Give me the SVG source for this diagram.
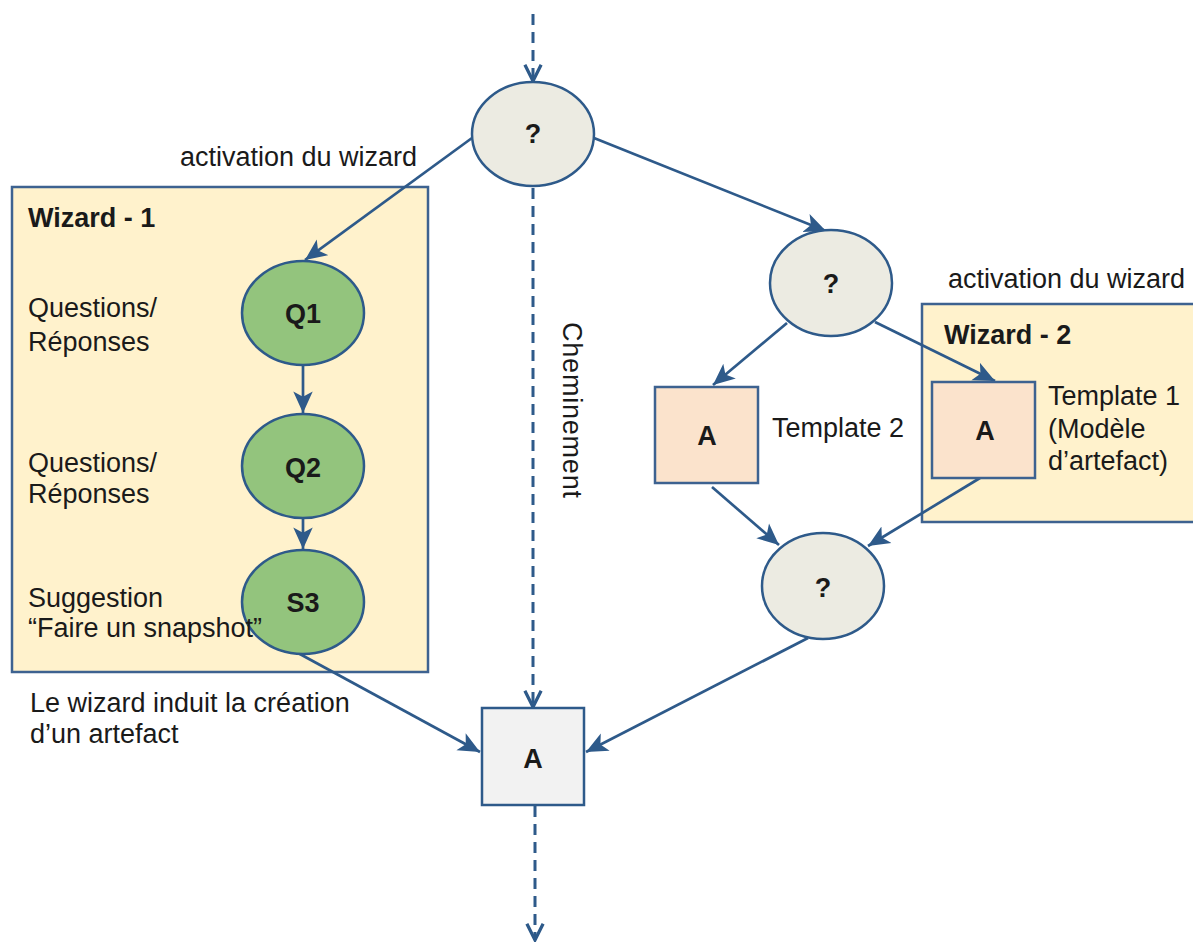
<svg xmlns="http://www.w3.org/2000/svg" width="1193" height="942" viewBox="0 0 1193 942">
<style>
text{font-family:"Liberation Sans",Arial,sans-serif;fill:#1a1a1a}
.t{font-size:27px}
.b{font-size:27px;font-weight:bold;text-anchor:middle}
.h{font-size:27px;font-weight:bold}
.ell{fill:#ecebe2;stroke:#2e5a8a;stroke-width:2.5}
.grn{fill:#93c47d;stroke:#2e5a8a;stroke-width:2.5}
.box{fill:#fff2cc;stroke:#3d6290;stroke-width:2.5}
.tpl{fill:#fbe3cc;stroke:#3d6290;stroke-width:2.5}
.art{fill:#f2f2f2;stroke:#2e5a8a;stroke-width:2.5}
.c{fill:none;stroke:#2e5a8a;stroke-width:2.7}
.d{fill:none;stroke:#2e5a8a;stroke-width:3;stroke-dasharray:11 7}
</style>
<defs>
<marker id="fa" viewBox="0 0 10 10" refX="10" refY="5" markerWidth="8" markerHeight="8" markerUnits="strokeWidth" orient="auto"><path d="M0,0.5 L10,5 L0,9.5 L2.5,5 Z" fill="#2e5a8a"/></marker>
<marker id="oa" viewBox="0 0 12 12" refX="11" refY="6" markerWidth="6.5" markerHeight="6.5" markerUnits="strokeWidth" orient="auto"><path d="M1,1 L11,6 L1,11" fill="none" stroke="#2e5a8a" stroke-width="2"/></marker>
</defs>
<g id="wizard1">
<rect class="box" x="12" y="187" width="416" height="485"/>
<text class="h" x="28" y="227">Wizard - 1</text>
</g>
<g id="wizard2">
<rect class="box" x="922" y="304" width="280" height="218"/>
<text class="h" x="944" y="344">Wizard - 2</text>
</g>
<g id="connectors">
<line class="d" x1="533" y1="14" x2="533" y2="81" marker-end="url(#oa)"/>
<line class="d" x1="533" y1="188" x2="533" y2="707" marker-end="url(#oa)"/>
<line class="d" x1="535" y1="806" x2="535" y2="940" marker-end="url(#oa)"/>
<line class="c" x1="472" y1="138" x2="305" y2="260" marker-end="url(#fa)"/>
<line class="c" x1="594" y1="138" x2="826" y2="231" marker-end="url(#fa)"/>
<line class="c" x1="303" y1="365" x2="303" y2="413" marker-end="url(#fa)"/>
<line class="c" x1="303" y1="518" x2="303" y2="549" marker-end="url(#fa)"/>
<line class="c" x1="787" y1="323" x2="713" y2="385" marker-end="url(#fa)"/>
<line class="c" x1="875" y1="322" x2="995" y2="381" marker-end="url(#fa)"/>
<line class="c" x1="712" y1="487" x2="779" y2="545" marker-end="url(#fa)"/>
<line class="c" x1="980" y1="478" x2="868" y2="546" marker-end="url(#fa)"/>
<line class="c" x1="808" y1="638" x2="586" y2="752" marker-end="url(#fa)"/>
<line class="c" x1="298" y1="653" x2="480" y2="752" marker-end="url(#fa)"/>
</g>
<g id="decision1"><ellipse class="ell" cx="533" cy="134" rx="61" ry="52"/><text class="b" x="533" y="143">?</text></g>
<g id="decision2"><ellipse class="ell" cx="831" cy="283" rx="61" ry="53"/><text class="b" x="831" y="293">?</text></g>
<g id="decision3"><ellipse class="ell" cx="823" cy="586" rx="61" ry="53"/><text class="b" x="823" y="597">?</text></g>
<g id="q1"><ellipse class="grn" cx="303" cy="313" rx="61" ry="52"/><text class="b" x="303" y="323">Q1</text></g>
<g id="q2"><ellipse class="grn" cx="303" cy="466" rx="61" ry="52"/><text class="b" x="303" y="477">Q2</text></g>
<g id="s3"><ellipse class="grn" cx="303" cy="602" rx="61" ry="52"/><text class="b" x="303" y="612">S3</text></g>
<g id="template2"><rect class="tpl" x="655" y="387" width="103" height="96"/><text class="b" x="707" y="445">A</text></g>
<g id="template1"><rect class="tpl" x="932" y="382" width="103" height="96"/><text class="b" x="985" y="440">A</text></g>
<g id="artefact"><rect class="art" x="482" y="708" width="102" height="97"/><text class="b" x="533" y="768">A</text></g>
<g id="labels">
<text class="t" x="180" y="166">activation du wizard</text>
<text class="t" x="948" y="288">activation du wizard</text>
<text class="t" x="28" y="317">Questions/</text>
<text class="t" x="28" y="351">Réponses</text>
<text class="t" x="28" y="472">Questions/</text>
<text class="t" x="28" y="503">Réponses</text>
<text class="t" x="28" y="607">Suggestion</text>
<text class="t" x="28" y="637">“Faire un snapshot”</text>
<text class="t" x="30" y="712">Le wizard induit la création</text>
<text class="t" x="30" y="743">d’un artefact</text>
<text class="t" x="772" y="437">Template 2</text>
<text class="t" x="1048" y="405">Template 1</text>
<text class="t" x="1048" y="438">(Modèle</text>
<text class="t" x="1048" y="470">d’artefact)</text>
<text class="t" transform="translate(563,322) rotate(90)" textLength="176">Cheminement</text>
</g>
</svg>
